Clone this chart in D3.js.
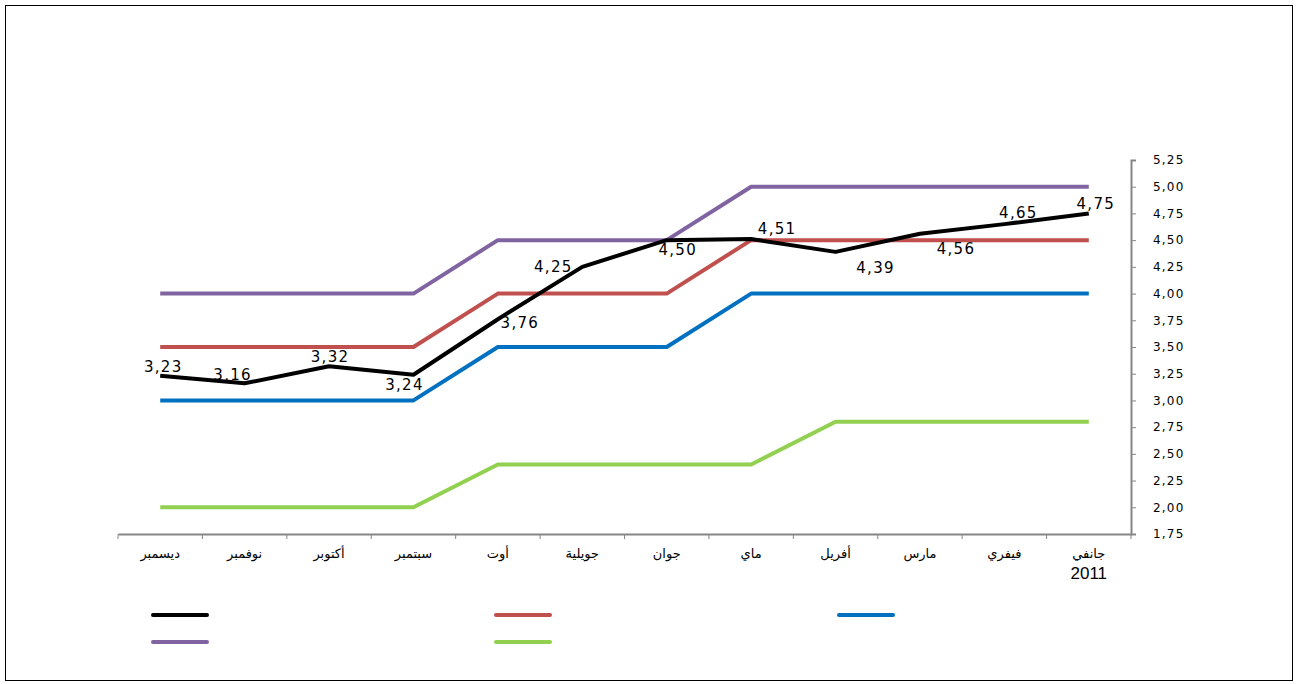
<!DOCTYPE html>
<html>
<head>
<meta charset="utf-8">
<script src="https://cdn.jsdelivr.net/npm/d3@7"></script>
<style>
  body { margin: 0; background: #fff; }
  svg { display: block; }
</style>
</head>
<body>
<script>
// months, January 2011 first (drawn right to left)
const months = ['جانفي', 'فيفري', 'مارس', 'أفريل', 'ماي', 'جوان', 'جويلية', 'أوت', 'سبتمبر', 'أكتوبر', 'نوفمبر', 'ديسمبر'];
const rate = [4.75, 4.65, 4.56, 4.39, 4.51, 4.50, 4.25, 3.76, 3.24, 3.32, 3.16, 3.23];
const upper = [5.00, 5.00, 5.00, 5.00, 5.00, 4.50, 4.50, 4.50, 4.00, 4.00, 4.00, 4.00];
const target = [4.50, 4.50, 4.50, 4.50, 4.50, 4.00, 4.00, 4.00, 3.50, 3.50, 3.50, 3.50];
const lower = [4.00, 4.00, 4.00, 4.00, 4.00, 3.50, 3.50, 3.50, 3.00, 3.00, 3.00, 3.00];
const green = [2.80, 2.80, 2.80, 2.80, 2.40, 2.40, 2.40, 2.40, 2.00, 2.00, 2.00, 2.00];
const yTicks = [1.75, 2.00, 2.25, 2.50, 2.75, 3.00, 3.25, 3.50, 3.75, 4.00, 4.25, 4.50, 4.75, 5.00, 5.25];

const series = [
  { values: green, color: '#92d050' },
  { values: lower, color: '#0070c0' },
  { values: target, color: '#c0504d' },
  { values: upper, color: '#8064a2' },
  { values: rate, color: '#000000' }
];

// label placement per point [dx, dy] from the point
const labelPos = [[7, -9], [14, -11], [36, 15], [40, 16], [26, -10], [11, 10], [-29, 0], [22, 4], [-9, 10], [1, -9], [-12, -8], [3, -9]];

const W = 1297, H = 684;
const mLeft = 118, mRight = 1131, mTop = 160, mBottom = 534;

const svg = d3.select('body').append('svg')
  .attr('width', W)
  .attr('height', H);

svg.append('rect')
  .attr('x', 5.5).attr('y', 5.5)
  .attr('width', 1287).attr('height', 675)
  .attr('fill', 'none')
  .attr('stroke', '#000')
  .attr('stroke-width', 1);

const x = d3.scaleBand()
  .domain(months)
  .range([mRight, mLeft]);

const y = d3.scaleLinear()
  .domain([1.75, 5.25])
  .range([mBottom, mTop]);

const fmt = d => d3.format('.2f')(d).replace('.', ',');

// y axis on the right
const yAxis = d3.axisRight(y)
  .tickValues(yTicks)
  .tickSize(5)
  .tickFormat(fmt);

const gy = svg.append('g')
  .attr('transform', 'translate(' + mRight + ',0)')
  .call(yAxis);
gy.select('.domain').attr('stroke', '#868686').attr('stroke-width', 2);
gy.selectAll('.tick line').attr('stroke', '#868686');
gy.selectAll('.tick text')
  .attr('x', 22)
  .style('font-family', 'DejaVu Sans, Verdana, sans-serif')
  .style('font-size', '12px')
  .style('letter-spacing', '1.2px')
  .attr('fill', '#000');

// x axis with ticks between months
const xAxis = d3.axisBottom(x)
  .tickSize(0)
  .tickPadding(15);

const gx = svg.append('g')
  .attr('transform', 'translate(0,' + mBottom + ')')
  .call(xAxis);
gx.select('.domain').attr('stroke', '#868686').attr('stroke-width', 2);
gx.selectAll('.tick text')
  .style('font-family', 'DejaVu Sans, sans-serif')
  .style('font-size', '13px')
  .attr('fill', '#000');

gx.selectAll('.sep')
  .data(months)
  .enter()
  .append('line')
  .attr('x1', d => x(d) + x.bandwidth())
  .attr('x2', d => x(d) + x.bandwidth())
  .attr('y1', 0)
  .attr('y2', 5)
  .attr('stroke', '#868686');

gx.append('line')
  .attr('x1', mLeft).attr('x2', mLeft)
  .attr('y1', 0).attr('y2', 5)
  .attr('stroke', '#868686');

gx.append('text')
  .attr('x', x(months[0]) + x.bandwidth() / 2)
  .attr('y', 45)
  .attr('text-anchor', 'middle')
  .attr('fill', '#000')
  .style('font-family', 'Liberation Sans, Arial, sans-serif')
  .style('font-size', '17px')
  .text('2011');

const line = d3.line()
  .x((d, i) => x(months[i]) + x.bandwidth() / 2)
  .y(d => y(d));

svg.selectAll('.series')
  .data(series)
  .enter()
  .append('path')
  .attr('d', d => line(d.values))
  .attr('fill', 'none')
  .attr('stroke', d => d.color)
  .attr('stroke-width', 4)
  .attr('stroke-linejoin', 'round');

svg.selectAll('.lbl')
  .data(rate)
  .enter()
  .append('text')
  .attr('x', (d, i) => x(months[i]) + x.bandwidth() / 2 + labelPos[i][0])
  .attr('y', (d, i) => y(d) + labelPos[i][1])
  .attr('text-anchor', 'middle')
  .attr('dominant-baseline', 'central')
  .style('font-family', 'DejaVu Sans, Verdana, sans-serif')
  .style('font-size', '15px')
  .style('letter-spacing', '1.3px')
  .text(fmt);

// legend (no text)
const legend = [
  { color: '#000000', lx: 153, ly: 615 },
  { color: '#c0504d', lx: 496, ly: 615 },
  { color: '#0070c0', lx: 839, ly: 615 },
  { color: '#8064a2', lx: 153, ly: 642 },
  { color: '#92d050', lx: 496, ly: 642 }
];
svg.selectAll('.leg')
  .data(legend)
  .enter()
  .append('line')
  .attr('x1', d => d.lx)
  .attr('x2', d => d.lx + 54)
  .attr('y1', d => d.ly)
  .attr('y2', d => d.ly)
  .attr('stroke', d => d.color)
  .attr('stroke-width', 4)
  .attr('stroke-linecap', 'round');
</script>
</body>
</html>
